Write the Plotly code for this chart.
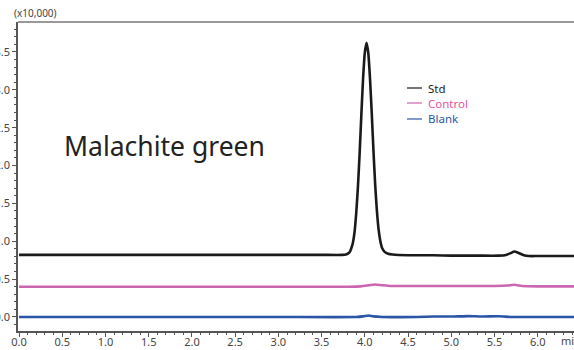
import plotly.graph_objects as go

# Std (x10,000)
std_t = [0.0, 1.0, 2.0, 3.0, 3.5, 3.74, 3.78, 3.82, 3.86, 3.88, 3.90, 3.92, 3.94, 3.96,
         3.98, 4.00, 4.02, 4.04, 4.06, 4.08, 4.10, 4.12, 4.14, 4.16, 4.18, 4.20, 4.23,
         4.27, 4.32, 4.5, 4.8, 5.0, 5.3, 5.55, 5.62, 5.68, 5.73, 5.78, 5.84, 5.9, 6.0,
         6.2, 6.42]
std_y = [0.82, 0.82, 0.82, 0.82, 0.82, 0.82, 0.825, 0.85, 0.97, 1.11, 1.36, 1.71, 2.16, 2.67,
         3.15, 3.49, 3.62, 3.49, 3.15, 2.70, 2.20, 1.75, 1.40, 1.15, 1.00, 0.91, 0.86,
         0.835, 0.825, 0.815, 0.815, 0.81, 0.81, 0.81, 0.815, 0.84, 0.865, 0.845, 0.815,
         0.805, 0.805, 0.805, 0.805]

ctrl_t = [0.0, 1.0, 2.0, 3.0, 3.8, 3.95, 4.05, 4.12, 4.2, 4.3, 4.5, 5.0, 5.5, 5.65, 5.73,
          5.82, 6.0, 6.42]
ctrl_y = [0.40, 0.40, 0.40, 0.40, 0.40, 0.405, 0.42, 0.43, 0.42, 0.41, 0.41, 0.41, 0.41,
          0.415, 0.425, 0.41, 0.405, 0.405]

blank_t = [0.0, 1.0, 2.0, 3.0, 3.9, 3.98, 4.04, 4.1, 4.2, 4.6, 4.8, 5.0, 5.2, 5.35, 5.55,
           5.7, 6.0, 6.42]
blank_y = [0.0, 0.0, 0.0, 0.0, 0.0, 0.008, 0.02, 0.008, 0.0, 0.0, 0.006, 0.006, 0.012,
           0.006, 0.01, 0.0, 0.0, 0.0]

series_names = ["Std", "Control", "Blank"]
line_colors = ["#1a1a1a", "#cc66b0", "#2b56a8"]
text_colors = ["#1a1a1a", "#e8509a", "#2b56a8"]

x_ticks = [0.0, 0.5, 1.0, 1.5, 2.0, 2.5, 3.0, 3.5, 4.0, 4.5, 5.0, 5.5, 6.0]
y_ticks = [0.0, 0.5, 1.0, 1.5, 2.0, 2.5, 3.0, 3.5]

W, H = 574, 350
ml, mr, mt, mb = 18, 0, 22, 19
pw = W - ml - mr
ph = H - mt - mb

fig = go.Figure()
for t, y, c in [(std_t, std_y, line_colors[0]), (ctrl_t, ctrl_y, line_colors[1]),
                (blank_t, blank_y, line_colors[2])]:
    fig.add_trace(go.Scatter(x=t, y=y, mode="lines",
                             line=dict(color=c, width=2.6, shape="spline", smoothing=0.5),
                             showlegend=False, hoverinfo="skip"))

font = "Noto Sans, Open Sans, sans-serif"
axis_common = dict(showgrid=False, zeroline=False, showline=True, linecolor="#555555",
                   linewidth=1.5, ticks="outside", ticklen=4, tickwidth=1.2,
                   tickcolor="#555555", automargin=False,
                   tickfont=dict(family=font, size=11, color="#444444"),
                   minor=dict(ticks="outside", ticklen=2, tickwidth=1, tickcolor="#555555",
                              dtick=0.1))

fig.update_xaxes(range=[-0.012, 6.42], tickvals=x_ticks, ticklabelstandoff=-4,
                 ticktext=[f"{v:.1f}" for v in x_ticks], **axis_common)
fig.update_yaxes(range=[-0.185, 3.896], tickvals=y_ticks,
                 ticktext=[f"{v:.1f}" for v in y_ticks], mirror=False, **axis_common)

shapes = [dict(type="line", xref="paper", yref="paper", x0=0, x1=1, y0=1, y1=1,
               line=dict(color="#777777", width=1.5))]
annotations = []

# custom legend
leg_y_px = [88, 103, 119]
for name, lc, tc, ypx in zip(series_names, line_colors, text_colors, leg_y_px):
    yp = 1 - (ypx - mt) / ph
    shapes.append(dict(type="line", xref="paper", yref="paper",
                       x0=(407 - ml) / pw, x1=(422 - ml) / pw, y0=yp, y1=yp,
                       line=dict(color=lc, width=1.2)))
    annotations.append(dict(text=name, xref="paper", yref="paper", x=(426 - ml) / pw, y=yp,
                            xanchor="left", yanchor="middle", showarrow=False,
                            font=dict(family=font, size=11.5, color=tc)))

annotations.append(dict(text="Malachite green", xref="paper", yref="paper",
                        x=(164 - ml) / pw, y=1 - (146 - mt) / ph, xanchor="center",
                        yanchor="middle", showarrow=False,
                        font=dict(family=font, size=26.5, color="#222222")))
annotations.append(dict(text="(x10,000)", xref="paper", yref="paper",
                        x=(12 - ml) / pw, y=1 - (13 - mt) / ph, xanchor="left",
                        yanchor="middle", showarrow=False,
                        font=dict(family=font, size=10, color="#444444")))
annotations.append(dict(text="min", xref="paper", yref="paper",
                        x=(559 - ml) / pw, y=1 - (340 - mt) / ph, xanchor="left",
                        yanchor="middle", showarrow=False,
                        font=dict(family=font, size=11, color="#444444")))

fig.update_layout(width=W, height=H, margin=dict(l=ml, r=mr, t=mt, b=mb),
                  paper_bgcolor="white", plot_bgcolor="white",
                  shapes=shapes, annotations=annotations)

fig.write_html("out.html")
